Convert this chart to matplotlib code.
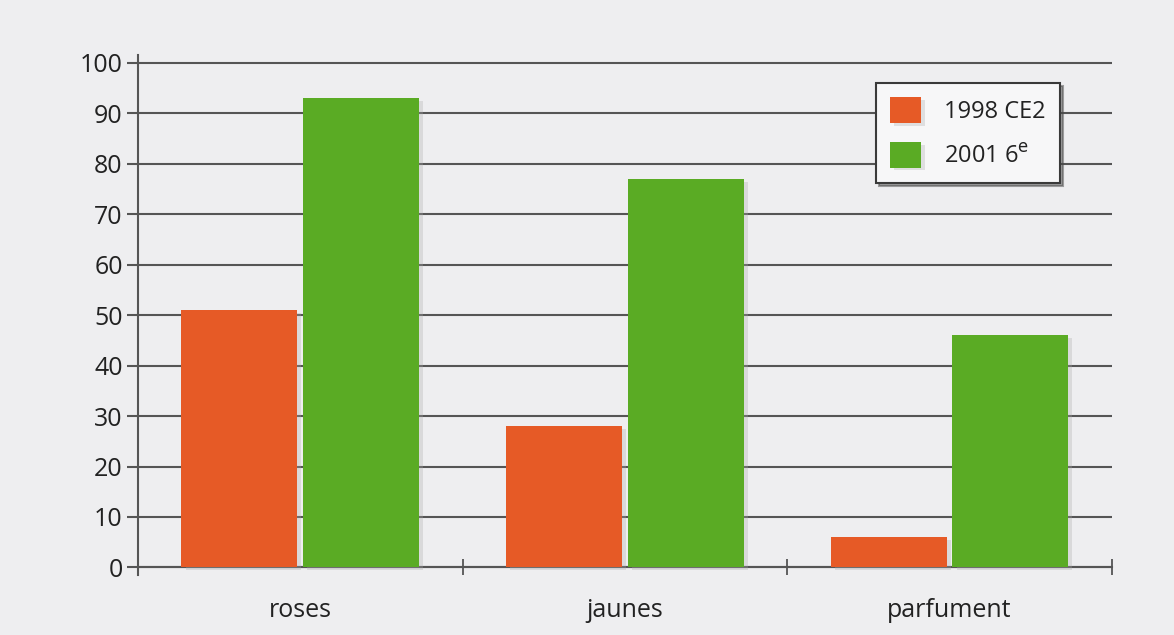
import matplotlib.pyplot as plt
import matplotlib.patheffects as pe
import numpy as np

categories = ['roses', 'jaunes', 'parfument']
series_1998 = [51, 28, 6]
series_2001 = [93, 77, 46]
labels = ['1998 CE2', '2001 6$^{\\mathrm{e}}$']

bg = '#eeeef0'
orange = '#e65a26'
green = '#5aab24'
dark = '#3a3a3a'

plt.rcParams['font.family'] = ['Open Sans', 'DejaVu Sans']

fig = plt.figure(figsize=(11.74, 6.35), dpi=100, facecolor=bg)
ax = fig.add_axes([0.1175, 0.0945, 0.8295, 0.8185], facecolor=bg)

x = np.arange(len(categories))
w = 0.357
shadow = [pe.SimplePatchShadow(offset=(3, -2), shadow_rgbFace='#aaaaaa', alpha=0.3), pe.Normal()]
b1 = ax.bar(x - 0.1875, series_1998, w, color=orange, label=labels[0], zorder=3)
b2 = ax.bar(x + 0.1875, series_2001, w, color=green, label=labels[1], zorder=3)
for b in list(b1) + list(b2):
    b.set_path_effects(shadow)

ax.set_xlim(-0.5, 2.5)
ax.set_ylim(-1.5, 101.5)
ax.set_yticks(np.arange(0, 101, 10))
ax.yaxis.grid(True, color='#555555', linewidth=1.5, zorder=1)
ax.set_axisbelow(True)

for s in ['top', 'right']:
    ax.spines[s].set_visible(False)
ax.spines['bottom'].set_position(('data', 0))
ax.spines['bottom'].set_color('#555555')
ax.spines['bottom'].set_linewidth(1.5)
ax.spines['left'].set_color('#555555')
ax.spines['left'].set_linewidth(1.5)

ax.set_xticks(x)
ax.set_xticklabels(categories)
ax.set_xticks([0.5, 1.5, 2.5], minor=True)
ax.tick_params(axis='x', which='major', length=0, pad=22, labelsize=18, labelcolor='#222222')
ax.tick_params(axis='x', which='minor', direction='inout', length=12, width=1.3, color='#555555')
ax.tick_params(axis='y', length=8, width=1.5, color='#555555', labelsize=18, labelcolor='#222222', pad=3)

leg = ax.legend(loc='upper right', bbox_to_anchor=(0.947, 0.946), fontsize=17,
                frameon=True, fancybox=False, shadow=True, edgecolor=dark,
                handlelength=1.3, handleheight=1.3, borderpad=0.6, labelspacing=0.75,
                handletextpad=1.0, borderaxespad=0)
leg.get_frame().set_facecolor('#f7f7f8')
leg.get_frame().set_linewidth(1.5)
for t in leg.get_texts():
    t.set_color('#222222')

fig.savefig('out.png', dpi=100, facecolor=bg)
